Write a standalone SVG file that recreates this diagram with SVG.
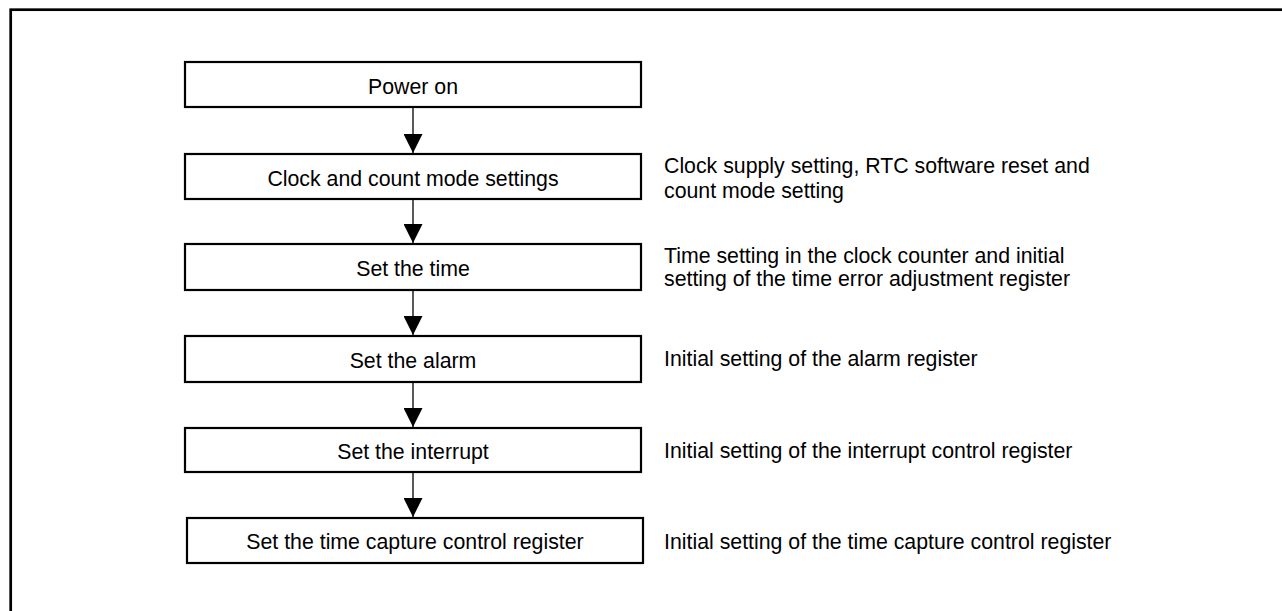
<svg xmlns="http://www.w3.org/2000/svg" width="1282" height="611" viewBox="0 0 1282 611">
<style>
.box{fill:#fff;stroke:#000;stroke-width:2.2}
.t{font-family:"Liberation Sans",Arial,sans-serif;font-size:21.3px;fill:#000}
.c{text-anchor:middle}
.conn{stroke:#000;stroke-width:1.3;fill:none}
</style>
<defs>
<marker id="ah" markerUnits="userSpaceOnUse" markerWidth="19" markerHeight="19" refX="19" refY="9.5" orient="auto" viewBox="0 0 19 19">
<path d="M0,0 L19,9.5 L0,19 Z" fill="#000"/>
</marker>
</defs>
<rect x="10.7" y="9.7" width="1300" height="700" fill="#fff" stroke="#000" stroke-width="2.7"/>
<g id="n1"><rect class="box" x="185" y="62" width="456" height="45"/><text class="t c" x="413" y="94">Power on</text></g>
<g id="n2"><rect class="box" x="185" y="154" width="456" height="45"/><text class="t c" x="413" y="186">Clock and count mode settings</text>
<text class="t" x="664" y="172.5">Clock supply setting, RTC software reset and</text><text class="t" x="664" y="198">count mode setting</text></g>
<g id="n3"><rect class="box" x="185" y="244" width="456" height="46"/><text class="t c" x="413" y="275.5">Set the time</text>
<text class="t" x="664" y="263">Time setting in the clock counter and initial</text><text class="t" x="664" y="285.5">setting of the time error adjustment register</text></g>
<g id="n4"><rect class="box" x="185" y="336" width="456" height="46"/><text class="t c" x="413" y="367.5">Set the alarm</text>
<text class="t" x="664" y="366">Initial setting of the alarm register</text></g>
<g id="n5"><rect class="box" x="185" y="428" width="456" height="44"/><text class="t c" x="413" y="458.5">Set the interrupt</text>
<text class="t" x="664" y="457.5">Initial setting of the interrupt control register</text></g>
<g id="n6"><rect class="box" x="187" y="518" width="456" height="45"/><text class="t c" x="415" y="549">Set the time capture control register</text>
<text class="t" x="664" y="548.5">Initial setting of the time capture control register</text></g>
<g id="connectors">
<line class="conn" x1="413" y1="108" x2="413" y2="153" marker-end="url(#ah)"/>
<line class="conn" x1="413" y1="200" x2="413" y2="243" marker-end="url(#ah)"/>
<line class="conn" x1="413" y1="291" x2="413" y2="335" marker-end="url(#ah)"/>
<line class="conn" x1="413" y1="383" x2="413" y2="427" marker-end="url(#ah)"/>
<line class="conn" x1="413" y1="473" x2="413" y2="517" marker-end="url(#ah)"/>
</g>
</svg>
